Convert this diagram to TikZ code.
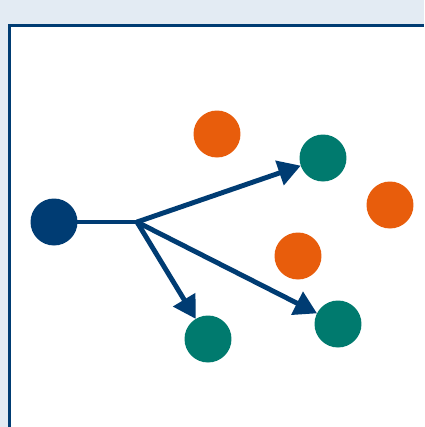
\documentclass[tikz,border=0pt]{standalone}
\usetikzlibrary{arrows.meta}

\definecolor{bgblue}{HTML}{E3EBF3}
\definecolor{navy}{HTML}{003C73}
\definecolor{teal}{HTML}{007A6E}
\definecolor{rust}{HTML}{E85D0C}

\begin{document}
\begin{tikzpicture}[
		x = 0.02cm, y = -0.02cm, % one unit = one pixel of the reference
		> = {Triangle[length=0.45cm, width=0.5cm]}, % arrow head style
		line width = 2.8pt, % line style
		dot/.style = {circle, inner sep=0pt, outer sep=0pt, minimum size=0.94cm},
		start/.style = {dot, fill=navy},
		hit/.style = {dot, fill=teal},
		miss/.style = {dot, fill=rust}
		]
		
		\useasboundingbox (0,0) rectangle (424,427);
		\clip (0,0) rectangle (424,427);
		\fill[bgblue] (0,0) rectangle (424,427);
		\draw[navy, fill=white, line width=1.4pt] (9.5,25.5) rectangle (440,440);
		
		\node[start] (src) at (54,222) {};
		\coordinate (fork) at (137,222);
		
		\node[hit] (t1) at (323,158) {};
		\node[hit] (t2) at (208,339) {};
		\node[hit] (t3) at (338,324) {};
		
		\node[miss] (o1) at (217,134) {};
		\node[miss] (o2) at (390,205) {};
		\node[miss] (o3) at (298,256) {};
		
		\draw[navy] (src) -- (fork);
		\draw[navy, ->] (fork) -- (t1);
		\draw[navy, ->] (fork) -- (t2);
		\draw[navy, ->] (fork) -- (t3);
	\end{tikzpicture}
\end{document}
